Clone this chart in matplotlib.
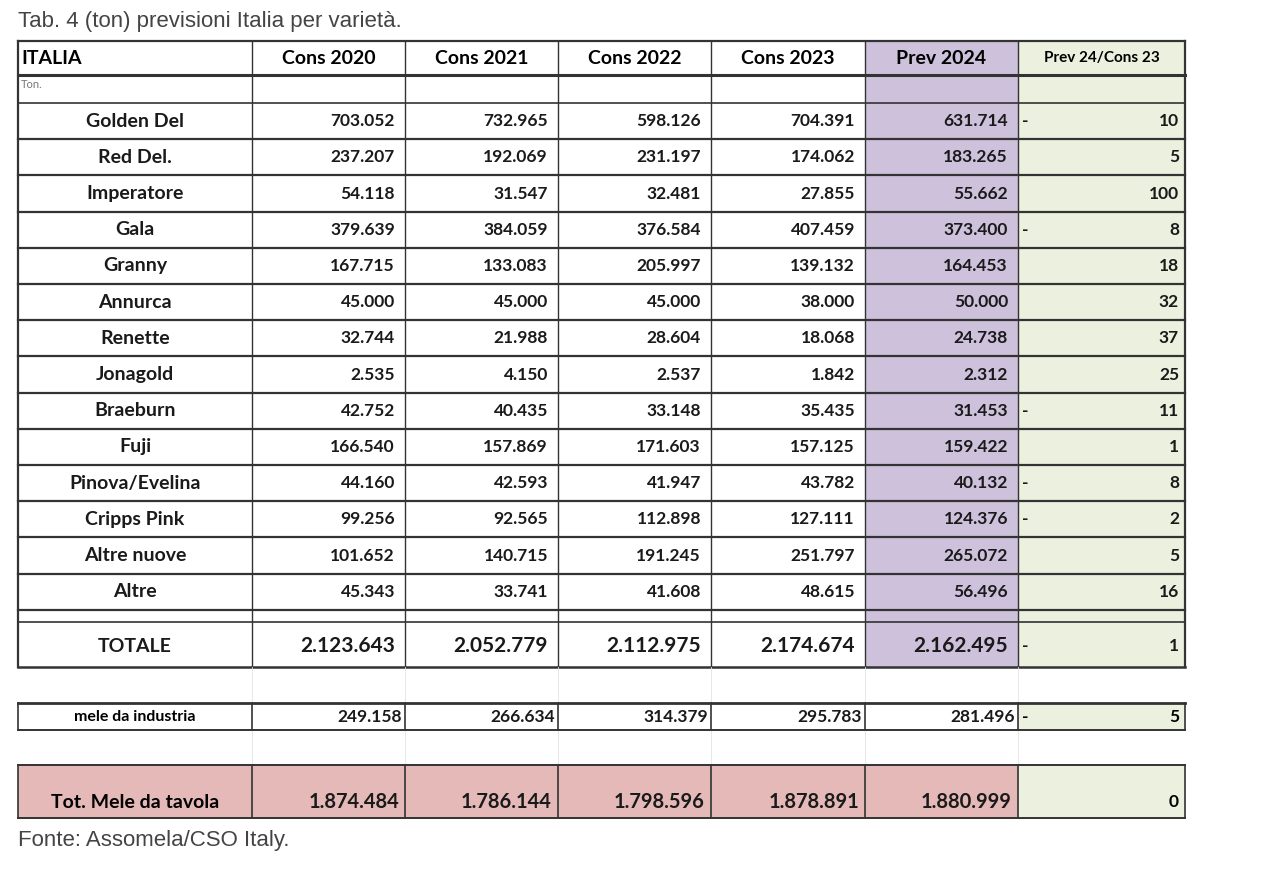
import matplotlib.pyplot as plt

# table data (tons)
varieta = ["Golden Del", "Red Del.", "Imperatore", "Gala", "Granny", "Annurca",
           "Renette", "Jonagold", "Braeburn", "Fuji", "Pinova/Evelina",
           "Cripps Pink", "Altre nuove", "Altre"]
cons2020 = [703052, 237207, 54118, 379639, 167715, 45000, 32744, 2535, 42752, 166540, 44160, 99256, 101652, 45343]
cons2021 = [732965, 192069, 31547, 384059, 133083, 45000, 21988, 4150, 40435, 157869, 42593, 92565, 140715, 33741]
cons2022 = [598126, 231197, 32481, 376584, 205997, 45000, 28604, 2537, 33148, 171603, 41947, 112898, 191245, 41608]
cons2023 = [704391, 174062, 27855, 407459, 139132, 38000, 18068, 1842, 35435, 157125, 43782, 127111, 251797, 48615]
prev2024 = [631714, 183265, 55662, 373400, 164453, 50000, 24738, 2312, 31453, 159422, 40132, 124376, 265072, 56496]
var_pct = [-10, 5, 100, -8, 18, 32, 37, 25, -11, 1, -8, -2, 5, 16]

totale = [2123643, 2052779, 2112975, 2174674, 2162495]
totale_var = -1
industria = [249158, 266634, 314379, 295783, 281496]
industria_var = -5
tavola = [1874484, 1786144, 1798596, 1878891, 1880999]
tavola_var = 0

headers = ["ITALIA", "Cons 2020", "Cons 2021", "Cons 2022", "Cons 2023", "Prev 2024", "Prev 24/Cons 23"]

PURPLE = "#cdc1dc"
GREEN = "#ecf1df"
PINK = "#e5b9b8"
FONT = "Lato"


def fmt(v):
    return f"{v:,}".replace(",", ".")


fig = plt.figure(figsize=(12.8, 8.72), dpi=100)
ax = fig.add_axes([0, 0, 1, 1])
ax.set_xlim(0, 1280)
ax.set_ylim(872, 0)
ax.axis("off")

xs = [18, 252, 405, 558, 711, 865, 1018, 1185]


def fill(x0, x1, y0, y1, c):
    ax.add_patch(plt.Rectangle((x0, y0), x1 - x0, y1 - y0, color=c, lw=0, zorder=0))


def hline(y, x0=xs[0], x1=xs[-1], lw=1.0, c="#333333"):
    ax.plot([x0, x1], [y, y], color=c, lw=lw, zorder=2)


def vline(x, y0, y1, lw=1.0, c="#333333"):
    ax.plot([x, x], [y0, y1], color=c, lw=lw, zorder=2)


def row_text(y, label, vals, var, size=12.5, lab_size=14, right_pad=10):
    ax.text((xs[0] + xs[1]) / 2, y, label, ha="center", va="center", fontsize=lab_size,
            fontweight="bold", family=FONT, color="#1a1a1a")
    for i, v in enumerate(vals):
        ax.text(xs[i + 2] - right_pad, y, fmt(v), ha="right", va="center", fontsize=size,
                fontweight="bold", family=FONT, color="#1a1a1a")
    ax.text(xs[7] - 6, y, str(abs(var)), ha="right", va="center", fontsize=12.5,
            fontweight="bold", family=FONT, color="#1a1a1a")
    if var < 0:
        ax.text(xs[6] + 4, y, "-", ha="left", va="center", fontsize=12.5,
                fontweight="bold", family=FONT, color="#1a1a1a")


# title / footer
ax.text(18, 22, "Tab. 4 (ton) previsioni Italia per varietà.", fontsize=16, family="Liberation Sans",
        color="#444444", va="center")
ax.text(18, 840, "Fonte: Assomela/CSO Italy.", fontsize=16, family="Liberation Sans",
        color="#444444", va="center")

# main block
top, hdr_b, ton_b = 41, 75, 103
row_h = 36.2
rows_y = [ton_b + i * row_h for i in range(len(varieta) + 1)]
gap_b = rows_y[-1] + 12
tot_b = 667

fill(xs[5], xs[6], top, tot_b, PURPLE)
fill(xs[6], xs[7], top, tot_b, GREEN)

for i, h in enumerate(headers):
    if i == 0:
        ax.text(xs[0] + 3, (top + hdr_b) / 2, h, ha="left", va="center", fontsize=14,
                fontweight="bold", family=FONT)
    else:
        ax.text((xs[i] + xs[i + 1]) / 2, (top + hdr_b) / 2, h, ha="center", va="center",
                fontsize=14 if i < 6 else 11, fontweight="bold", family=FONT)
ax.text(xs[0] + 3, (hdr_b + ton_b) / 2 - 4, "Ton.", fontsize=8, family=FONT, color="#777777",
        va="center")

for i, name in enumerate(varieta):
    yc = (rows_y[i] + rows_y[i + 1]) / 2
    vals = [cons2020[i], cons2021[i], cons2022[i], cons2023[i], prev2024[i]]
    row_text(yc, name, vals, var_pct[i])

row_text((gap_b + tot_b) / 2 + 2, "TOTALE", totale, totale_var, size=15, lab_size=14)

hline(top, lw=1.6)
hline(hdr_b, lw=2.2)
hline(ton_b, lw=1.2)
for y in rows_y[1:]:
    hline(y, lw=1.6)
hline(gap_b, lw=1.2)
hline(tot_b, lw=1.8)
for j, x in enumerate(xs):
    vline(x, top, tot_b, lw=1.6 if j in (0, 7) else 1.0)

# faint grid in blank rows
for y0, y1 in [(667, 703), (730, 765)]:
    for x in xs[1:-1]:
        vline(x, y0, y1, lw=0.6, c="#e4e4e4")
hline(818, lw=0.6, c="#e4e4e4")

# industria row
ind0, ind1 = 703, 730
fill(xs[6], xs[7], ind0, ind1, GREEN)
ax.text((xs[0] + xs[1]) / 2, (ind0 + ind1) / 2, "mele da industria", ha="center", va="center",
        fontsize=11.5, fontweight="bold", family=FONT)
for i, v in enumerate(industria):
    ax.text(xs[i + 2] - 3, (ind0 + ind1) / 2, fmt(v), ha="right", va="center", fontsize=12.5,
            family=FONT, fontweight="bold", color="#1a1a1a")
ax.text(xs[7] - 6, (ind0 + ind1) / 2, str(abs(industria_var)), ha="right", va="center",
        fontsize=12.5, fontweight="bold", family=FONT)
ax.text(xs[6] + 4, (ind0 + ind1) / 2, "-", ha="left", va="center", fontsize=12.5,
        fontweight="bold", family=FONT)
hline(ind0, lw=2.0)
hline(ind1, lw=1.4)
for x in xs:
    vline(x, ind0, ind1, lw=1.2)

# tavola row
tv0, tv1 = 765, 818
fill(xs[0], xs[6], tv0, tv1, PINK)
fill(xs[6], xs[7], tv0, tv1, GREEN)
yc = tv1 - 16
ax.text((xs[0] + xs[1]) / 2, yc, "Tot. Mele da tavola", ha="center", va="center", fontsize=14,
        fontweight="bold", family=FONT)
for i, v in enumerate(tavola):
    ax.text(xs[i + 2] - 6, yc, fmt(v), ha="right", va="center", fontsize=14.5, fontweight="bold",
            family=FONT, color="#1a1a1a")
ax.text(xs[7] - 6, yc, str(tavola_var), ha="right", va="center", fontsize=12.5,
        fontweight="bold", family=FONT)
hline(tv0, lw=1.4)
hline(tv1, lw=1.4)
for x in xs:
    vline(x, tv0, tv1, lw=1.2)

fig.savefig("out.png", dpi=100, facecolor="white")
